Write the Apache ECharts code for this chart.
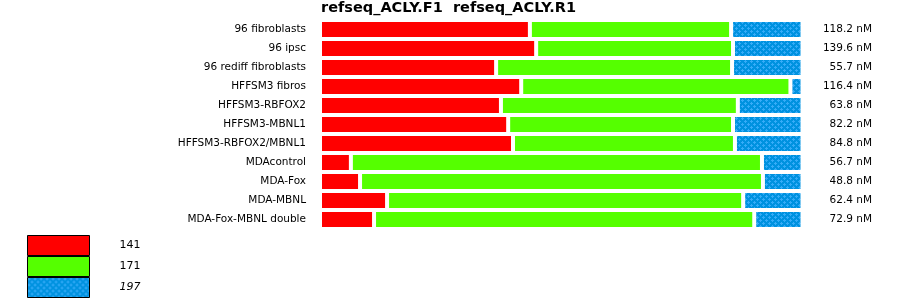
<!DOCTYPE html>
<html>
<head>
<meta charset="utf-8">
<script src="https://cdn.jsdelivr.net/npm/echarts@6/dist/echarts.min.js"></script>
<style>html,body{margin:0;padding:0;background:#fff;}#c{width:900px;height:299px;}</style>
</head>
<body>
<div id="c"></div>
<script>
const titleText = 'refseq_ACLY.F1  refseq_ACLY.R1';
const categories = ['96 fibroblasts','96 ipsc','96 rediff fibroblasts','HFFSM3 fibros','HFFSM3-RBFOX2','HFFSM3-MBNL1','HFFSM3-RBFOX2/MBNL1','MDAcontrol','MDA-Fox','MDA-MBNL','MDA-Fox-MBNL double'];
const concLabels = ['118.2 nM','139.6 nM','55.7 nM','116.4 nM','63.8 nM','82.2 nM','84.8 nM','56.7 nM','48.8 nM','62.4 nM','72.9 nM'];
const seriesNames = ['141','171','197'];
const s141 = [43.5,44.8,36.5,41.7,37.5,39.0,40.0,6.4,8.3,13.9,11.2];
const s171 = [41.7,40.8,48.9,55.8,49.1,46.6,46.0,85.2,83.5,73.8,78.8];
const s197 = [14.8,14.4,14.6,2.5,13.4,14.4,14.0,8.4,8.2,12.3,10.0];

function makePattern(){
  const cv = document.createElement('canvas');
  cv.width = 6; cv.height = 6;
  const g = cv.getContext('2d');
  g.fillStyle = '#0092e0'; g.fillRect(0,0,6,6);
  g.fillStyle = '#36acf8';
  [[1,1],[4,4]].forEach(([cx,cy])=>{
    g.fillRect(cx-1,cy,3,1);
    g.fillRect(cx,cy-1,1,3);
  });
  return cv;
}
const pattern = {image: makePattern(), repeat: 'repeat'};
const colors = ['#ff0000','#55ff00',pattern];
const dataSets = [s141,s171,s197];

const chart = echarts.init(document.getElementById('c'), null, {renderer:'canvas'});
chart.setOption({
  animation:false,
  title:{text:titleText,left:321,top:0,padding:0,
    textStyle:{fontFamily:'DejaVu Sans',fontSize:14.5,fontWeight:'bold',color:'#000',lineHeight:16}},
  grid:{left:320,right:97.5,top:20,bottom:70,containLabel:false},
  legend:{orient:'vertical',left:27,top:235,padding:0,itemGap:0,itemWidth:62,itemHeight:20,
    icon:'rect',data:seriesNames,selectedMode:false,
    itemStyle:{borderColor:'#000',borderWidth:1},
    formatter:function(n){return n==='197'?'{i|'+n+'}':'{n|'+n+'}';},
    textStyle:{fontFamily:'DejaVu Sans',fontSize:11,color:'#000',
      rich:{n:{fontFamily:'DejaVu Sans',fontSize:11,color:'#000',padding:[0,0,0,25]},
            i:{fontFamily:'DejaVu Sans',fontSize:11,color:'#000',fontStyle:'italic',padding:[0,0,0,25]}}}},
  xAxis:{type:'value',min:0,max:100,show:false},
  yAxis:[
    {type:'category',data:categories,inverse:true,position:'left',
      axisLine:{show:false},axisTick:{show:false},splitLine:{show:false},
      axisLabel:{margin:14,fontFamily:'DejaVu Sans',fontSize:10.5,color:'#000'}},
    {type:'category',data:concLabels,inverse:true,position:'right',
      axisLine:{show:false},axisTick:{show:false},splitLine:{show:false},
      axisLabel:{margin:69.5,align:'right',fontFamily:'DejaVu Sans',fontSize:10.5,color:'#000'}}
  ],
  series:dataSets.map((d,i)=>({
    name:seriesNames[i],type:'bar',stack:'all',barWidth:19,data:d,yAxisIndex:0,
    itemStyle:{color:colors[i],borderColor:'#fff',borderWidth:2}
  }))
});
</script>
</body>
</html>
